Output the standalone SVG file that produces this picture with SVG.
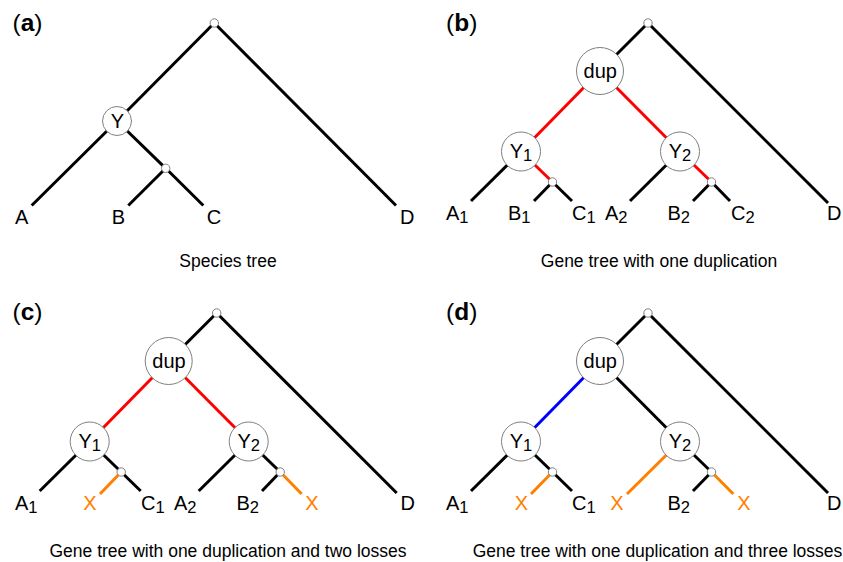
<svg xmlns="http://www.w3.org/2000/svg" width="843" height="562" viewBox="0 0 843 562">
<style>
text{font-family:"Liberation Sans",Arial,Helvetica,sans-serif;fill:#000}
.e{stroke-width:3;fill:none;stroke-linecap:butt}
.k{stroke:#000}.r{stroke:#ff0000}.b{stroke:#0000ff}.o{stroke:#ff7f00}
.big{fill:#fff;stroke:#808080;stroke-width:1}
.sm{fill:#fff;stroke:#808080;stroke-width:1}
.lab{font-size:20px}
.sub{font-size:16.5px}
.xl{font-size:20px;fill:#ff7f00;text-anchor:middle}
.cap{font-size:17.5px;text-anchor:middle}
.ttl{font-size:24.5px}
.mid{text-anchor:middle}
</style>
<rect width="843" height="562" fill="#fff"/>

<g id="connectors">
  <!-- panel a -->
  <line class="e k" x1="214.3" y1="23" x2="117" y2="121"/>
  <line class="e k" x1="214.3" y1="23" x2="396" y2="205.5"/>
  <line class="e k" x1="117" y1="121" x2="31.7" y2="205.5"/>
  <line class="e k" x1="117" y1="121" x2="165.7" y2="168.3"/>
  <line class="e k" x1="165.7" y1="168.3" x2="128.3" y2="205.5"/>
  <line class="e k" x1="165.7" y1="168.3" x2="203.3" y2="205.5"/>
  <!-- panel b -->
  <line class="e k" x1="648" y1="23" x2="828" y2="203"/>
  <line class="e k" x1="648" y1="23" x2="600" y2="71"/>
  <line class="e r" x1="600" y1="71" x2="521" y2="151.5"/>
  <line class="e r" x1="600" y1="71" x2="680" y2="151.5"/>
  <line class="e k" x1="521" y1="151.5" x2="471" y2="201"/>
  <line class="e r" x1="521" y1="151.5" x2="552.5" y2="182"/>
  <line class="e k" x1="552.5" y1="182" x2="534" y2="201"/>
  <line class="e k" x1="552.5" y1="182" x2="572" y2="201"/>
  <line class="e k" x1="680" y1="151.5" x2="630" y2="201"/>
  <line class="e r" x1="680" y1="151.5" x2="711.5" y2="182"/>
  <line class="e k" x1="711.5" y1="182" x2="693" y2="201"/>
  <line class="e k" x1="711.5" y1="182" x2="730" y2="201"/>
  <!-- panel c -->
  <line class="e k" x1="216.7" y1="313" x2="396.7" y2="493"/>
  <line class="e k" x1="216.7" y1="313" x2="168.7" y2="361"/>
  <line class="e r" x1="168.7" y1="361" x2="89.7" y2="441.5"/>
  <line class="e r" x1="168.7" y1="361" x2="248.7" y2="441.5"/>
  <line class="e k" x1="89.7" y1="441.5" x2="39.7" y2="491"/>
  <line class="e k" x1="89.7" y1="441.5" x2="121.2" y2="472"/>
  <line class="e o" x1="121.2" y1="472" x2="100" y2="494"/>
  <line class="e k" x1="121.2" y1="472" x2="140.7" y2="491"/>
  <line class="e k" x1="248.7" y1="441.5" x2="198.7" y2="491"/>
  <line class="e k" x1="248.7" y1="441.5" x2="280.2" y2="472"/>
  <line class="e k" x1="280.2" y1="472" x2="262" y2="491"/>
  <line class="e o" x1="280.2" y1="472" x2="301.7" y2="494"/>
  <!-- panel d -->
  <line class="e k" x1="648" y1="313" x2="828" y2="493"/>
  <line class="e k" x1="648" y1="313" x2="600" y2="361"/>
  <line class="e b" x1="600" y1="361" x2="521" y2="441.5"/>
  <line class="e k" x1="600" y1="361" x2="680" y2="441.5"/>
  <line class="e k" x1="521" y1="441.5" x2="471" y2="491"/>
  <line class="e k" x1="521" y1="441.5" x2="552.5" y2="472"/>
  <line class="e o" x1="552.5" y1="472" x2="531" y2="494"/>
  <line class="e k" x1="552.5" y1="472" x2="572" y2="491"/>
  <line class="e o" x1="680" y1="441.5" x2="627" y2="494"/>
  <line class="e k" x1="680" y1="441.5" x2="711.5" y2="472"/>
  <line class="e k" x1="711.5" y1="472" x2="693" y2="491"/>
  <line class="e o" x1="711.5" y1="472" x2="733.3" y2="494"/>
</g>

<!-- Panel a -->
<g id="panel-a">
  <text class="ttl" x="12.5" y="30.5">(<tspan font-weight="bold">a</tspan>)</text>
  <g id="a-root"><circle class="sm" cx="214.3" cy="23" r="4.2"/></g>
  <g id="a-Y"><circle class="big" cx="117" cy="121" r="14.5"/><text class="lab mid" x="117.3" y="128.3">Y</text></g>
  <g id="a-BC"><circle class="sm" cx="165.7" cy="168.3" r="4.2"/></g>
  <g id="a-A"><text class="lab mid" x="21.7" y="223.5">A</text></g>
  <g id="a-B"><text class="lab mid" x="118.3" y="223.5">B</text></g>
  <g id="a-C"><text class="lab mid" x="214" y="223.5">C</text></g>
  <g id="a-D"><text class="lab mid" x="407.3" y="223.5">D</text></g>
  <text class="cap" x="228" y="266.7">Species tree</text>
</g>

<!-- Panel b -->
<g id="panel-b">
  <text class="ttl" x="446" y="30.5">(<tspan font-weight="bold">b</tspan>)</text>
  <g id="b-root"><circle class="sm" cx="648" cy="23" r="4.2"/></g>
  <g id="b-dup"><circle class="big" cx="600" cy="71" r="23.5"/><text class="lab mid" x="600.3" y="77.5">dup</text></g>
  <g id="b-Y1"><circle class="big" cx="521" cy="151.5" r="19.5"/><text class="lab mid" x="521" y="157.5">Y<tspan class="sub" dy="3">1</tspan></text></g>
  <g id="b-Y2"><circle class="big" cx="680" cy="151.5" r="19.5"/><text class="lab mid" x="680" y="157.5">Y<tspan class="sub" dy="3">2</tspan></text></g>
  <g id="b-s1"><circle class="sm" cx="552.5" cy="182" r="4.2"/></g>
  <g id="b-s2"><circle class="sm" cx="711.5" cy="182" r="4.2"/></g>
  <g id="b-A1"><text class="lab" x="446" y="219.5">A<tspan class="sub" dy="3">1</tspan></text></g>
  <g id="b-B1"><text class="lab" x="508" y="219.5">B<tspan class="sub" dy="3">1</tspan></text></g>
  <g id="b-C1"><text class="lab" x="572" y="219.5">C<tspan class="sub" dy="3">1</tspan></text></g>
  <g id="b-A2"><text class="lab" x="605" y="219.5">A<tspan class="sub" dy="3">2</tspan></text></g>
  <g id="b-B2"><text class="lab" x="667.5" y="219.5">B<tspan class="sub" dy="3">2</tspan></text></g>
  <g id="b-C2"><text class="lab" x="731" y="219.5">C<tspan class="sub" dy="3">2</tspan></text></g>
  <g id="b-D"><text class="lab" x="827" y="219.5">D</text></g>
  <text class="cap" x="659" y="266.7">Gene tree with one duplication</text>
</g>

<!-- Panel c -->
<g id="panel-c">
  <text class="ttl" x="12.5" y="319.5">(<tspan font-weight="bold">c</tspan>)</text>
  <g id="c-root"><circle class="sm" cx="216.7" cy="313" r="4.2"/></g>
  <g id="c-dup"><circle class="big" cx="168.7" cy="361" r="23.5"/><text class="lab mid" x="169" y="367.5">dup</text></g>
  <g id="c-Y1"><circle class="big" cx="89.7" cy="441.5" r="19.5"/><text class="lab mid" x="89.7" y="447.5">Y<tspan class="sub" dy="3">1</tspan></text></g>
  <g id="c-Y2"><circle class="big" cx="248.7" cy="441.5" r="19.5"/><text class="lab mid" x="248.7" y="447.5">Y<tspan class="sub" dy="3">2</tspan></text></g>
  <g id="c-s1"><circle class="sm" cx="121.2" cy="472" r="4.2"/></g>
  <g id="c-s2"><circle class="sm" cx="280.2" cy="472" r="4.2"/></g>
  <g id="c-A1"><text class="lab" x="15" y="509.5">A<tspan class="sub" dy="3">1</tspan></text></g>
  <g id="c-X1"><text class="xl" x="90" y="510">X</text></g>
  <g id="c-C1"><text class="lab" x="141" y="509.5">C<tspan class="sub" dy="3">1</tspan></text></g>
  <g id="c-A2"><text class="lab" x="174" y="509.5">A<tspan class="sub" dy="3">2</tspan></text></g>
  <g id="c-B2"><text class="lab" x="236.5" y="509.5">B<tspan class="sub" dy="3">2</tspan></text></g>
  <g id="c-X2"><text class="xl" x="312" y="510">X</text></g>
  <g id="c-D"><text class="lab" x="400.5" y="509.5">D</text></g>
  <text class="cap" x="228" y="556.7">Gene tree with one duplication and two losses</text>
</g>

<!-- Panel d -->
<g id="panel-d">
  <text class="ttl" x="446" y="319.5">(<tspan font-weight="bold">d</tspan>)</text>
  <g id="d-root"><circle class="sm" cx="648" cy="313" r="4.2"/></g>
  <g id="d-dup"><circle class="big" cx="600" cy="361" r="23.5"/><text class="lab mid" x="600.3" y="367.5">dup</text></g>
  <g id="d-Y1"><circle class="big" cx="521" cy="441.5" r="19.5"/><text class="lab mid" x="521" y="447.5">Y<tspan class="sub" dy="3">1</tspan></text></g>
  <g id="d-Y2"><circle class="big" cx="680" cy="441.5" r="19.5"/><text class="lab mid" x="680" y="447.5">Y<tspan class="sub" dy="3">2</tspan></text></g>
  <g id="d-s1"><circle class="sm" cx="552.5" cy="472" r="4.2"/></g>
  <g id="d-s2"><circle class="sm" cx="711.5" cy="472" r="4.2"/></g>
  <g id="d-A1"><text class="lab" x="446" y="509.5">A<tspan class="sub" dy="3">1</tspan></text></g>
  <g id="d-X1"><text class="xl" x="521.5" y="510">X</text></g>
  <g id="d-C1"><text class="lab" x="572" y="509.5">C<tspan class="sub" dy="3">1</tspan></text></g>
  <g id="d-X2"><text class="xl" x="617" y="510">X</text></g>
  <g id="d-B2"><text class="lab" x="667.5" y="509.5">B<tspan class="sub" dy="3">2</tspan></text></g>
  <g id="d-X3"><text class="xl" x="744" y="510">X</text></g>
  <g id="d-D"><text class="lab" x="827" y="509.5">D</text></g>
  <text class="cap" x="657.5" y="556.7">Gene tree with one duplication and three losses</text>
</g>
</svg>
